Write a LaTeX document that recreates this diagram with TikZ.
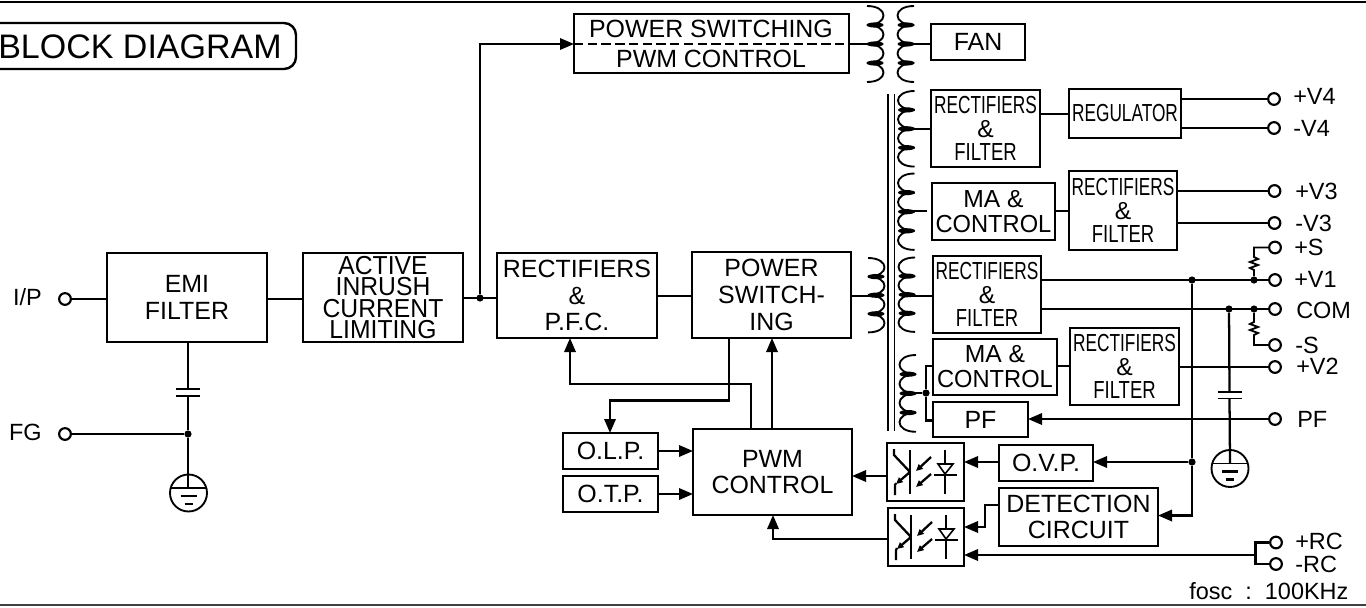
\documentclass[tikz,border=0pt]{standalone}
\usepackage{fontspec}
\usepackage{graphicx}
\setmainfont{Liberation Sans}
\usetikzlibrary{arrows.meta,calc}
\newcommand\cnd[2][.7]{\scalebox{#1}[1]{#2}}
\tikzset{
  wire/.style={line width=1.7pt,line join=miter},
  thin wire/.style={line width=1.1pt},
  arr/.style={wire,-{Triangle[length=10.5pt,width=8.5pt]}},
  blk/.style={draw,line width=1.8pt,inner sep=0pt,outer sep=0pt,align=center},
  term/.style={circle,draw,line width=1.6pt,fill=white,inner sep=0pt,minimum size=8.8pt},
  jn/.style={circle,fill=black,inner sep=0pt,minimum size=5.4pt},
  fb/.style={font=\fontsize{18.7}{20}\selectfont},
  fsm/.style={font=\fontsize{18.5}{17.8}\selectfont},
  lab/.style={anchor=base west,inner sep=0pt,font=\fontsize{17.6}{18}\selectfont},
  labr/.style={anchor=base east,inner sep=0pt,font=\fontsize{17.6}{18}\selectfont},
}
\newcommand\bx[7][]{%
  \pgfmathsetmacro\bw{(#5-#3)*0.75}%
  \pgfmathsetmacro\bh{(#6-#4)*0.75}%
  \node[blk,minimum width=\bw pt,minimum height=\bh pt,#1] (#2) at ({(#3+#5)/2},{(#4+#6)/2}) {#7};}
% coil: open-side x, top y, step, direction (+1 bulge right, -1 bulge left)
\newcommand\coil[4]{%
  \pgfmathsetmacro\cc{#1+#4*22}%
  \pgfmathsetmacro\cm{#1+#4*8}%
  \foreach \i in {0,1,2,3}{%
    \pgfmathsetmacro\ya{#2+\i*#3}%
    \pgfmathsetmacro\yb{\ya+#3}%
    \draw[thin wire,line width=1.4pt] (#1,\ya) .. controls (\cc,\ya) and (\cc,\yb) .. (#1,\yb);
  }%
  \foreach \i in {1,2,3}{%
    \pgfmathsetmacro\ya{#2+\i*#3}%
    \fill (\cm,\ya) ellipse [x radius=8.5,y radius=2.6];
  }}
% opto-coupler symbol relative to the box's top left corner
\newcommand\opto[2]{%
  \begin{scope}[shift={(#1,#2)}]
    \draw[wire] (23,7) -- (23,51);
    \draw[wire] (7,6) -- (7,12) -- (23,29);
    \draw[wire,-{Triangle[length=5pt,width=4.5pt]}] (23,29) -- (9,41);
    \draw[wire] (9,40) -- (8,42) -- (8,52);
    \draw[wire,-{Triangle[length=5pt,width=4.5pt]}] (44,14) -- (29,28);
    \draw[wire,-{Triangle[length=5pt,width=4.5pt]}] (44,31) -- (29,44);
    \draw[wire] (58,7) -- (58,51);
    \draw[line width=1.2pt,fill=white,line join=miter] (51,21) -- (66,21) -- (58,31) -- cycle;
    \draw[wire] (47,32) -- (70,32);
  \end{scope}}
% ground symbol
\newcommand\gnd[3]{%
  \draw[line width=1.4pt] (#1,#2) circle [x radius=18.5,y radius=18.5];
  \draw[line width=1.4pt] ($(#1,#2)+(-18,-5)$) -- ($(#1,#2)+(18,-5)$);
  \draw[line width=1.6pt] ($(#1,#2)+(-8,3)$) -- ($(#1,#2)+(8,3)$);
  \draw[line width=1.6pt] ($(#1,#2)+(-4,11)$) -- ($(#1,#2)+(4,11)$);
}
\newcommand\lb[5][lab]{%
  \pgfmathsetmacro\by{#4+8}%
  \node[#1] (#2) at (#3,\by) {#5};}
\begin{document}
\begin{tikzpicture}[x=0.75pt,y=-0.75pt]
\clip (0,0) rectangle (1366,607);
\useasboundingbox (0,0) rectangle (1366,607);
% frame scraps
\coordinate (ftl) at (0,2); \coordinate (ftr) at (1366,2);
\coordinate (fbl) at (0,605); \coordinate (fbr) at (1366,605);
\draw[line width=1.8pt] (ftl) -- (ftr);
\draw[line width=1.6pt,black!75] (fbl) -- (fbr);
% title
\draw[line width=1.8pt,rounded corners=9pt] (-8,23) -- (296,23) -- (296,69) -- (-8,69);
\node[inner sep=0pt,font=\fontsize{25.5}{26}\selectfont] (title) at (140,47) {BLOCK DIAGRAM};
% blocks
\bx[fb]{emi}{107}{253}{267}{342}{EMI\\FILTER}
\bx[font=\fontsize{19.5}{15.9}\selectfont]{act}{303}{253}{463}{342}{\cnd[.95]{ACTIVE}\\\cnd[.95]{INRUSH}\\\cnd[.95]{CURRENT}\\\cnd[.95]{LIMITING}}
\bx[fb]{rpfc}{497}{253}{657}{338}{RECTIFIERS\\\&\\P.F.C.}
\bx[fb]{psw}{692}{252}{851}{338}{POWER\\SWITCH-\\ING}
\bx{top}{574}{14}{849}{73}{}
\node[inner sep=0pt,font=\fontsize{18.7}{19}\selectfont] (topa) at (711,29) {POWER SWITCHING};
\node[inner sep=0pt,font=\fontsize{18.7}{19}\selectfont] (topb) at (711,59) {PWM CONTROL};
\bx[fb]{fan}{931}{24}{1025}{60}{FAN}
\bx[fsm]{r1}{931}{90}{1040}{167}{\cnd{RECTIFIERS}\\\&\\\cnd[.75]{FILTER}}
\bx[font=\fontsize{18.5}{19}\selectfont]{reg}{1069}{89}{1181}{138}{\cnd[.7]{REGULATOR}}
\bx[font=\fontsize{18.5}{18.8}\selectfont]{ma1}{932}{183}{1055}{240}{MA \&\\\cnd[.96]{CONTROL}}
\bx[fsm]{r2}{1069}{171}{1177}{250}{\cnd{RECTIFIERS}\\\&\\\cnd[.75]{FILTER}}
\bx[fsm]{r3}{933}{256}{1041}{333}{\cnd{RECTIFIERS}\\\&\\\cnd[.75]{FILTER}}
\bx[font=\fontsize{18.5}{18.8}\selectfont]{ma2}{933}{339}{1057}{395}{MA \&\\\cnd[.96]{CONTROL}}
\bx[fsm]{r4}{1070}{328}{1179}{405}{\cnd{RECTIFIERS}\\\&\\\cnd[.75]{FILTER}}
\bx[fb]{pfb}{933}{402}{1028}{437}{PF}
\bx{op1}{887}{443}{964}{501}{}
\bx{op2}{888}{508}{964}{566}{}
\bx[fb]{ovp}{999}{445}{1093}{481}{O.V.P.}
\bx[fb]{det}{999}{488}{1158}{546}{DETECTION\\CIRCUIT}
\bx[fb]{pwm}{693}{429}{852}{515}{PWM\\CONTROL}
\bx[fb]{olp}{563}{433}{658}{469}{O.L.P.}
\bx[fb]{otp}{563}{476}{658}{512}{O.T.P.}
\opto{887}{443}
\opto{888}{508}
% transformer core
\draw[line width=1.3pt] (888,94) -- (888,431);
\draw[line width=1.3pt] (894.5,94) -- (894.5,431);
% coils
\coil{867}{6}{19}{1}
\coil{914}{6}{19}{-1}
\coil{868}{258}{18.6}{1}
\coil{914.5}{91}{18.9}{-1}
\coil{914.5}{173.5}{19.1}{-1}
\coil{915}{257.5}{18.6}{-1}
\coil{916}{355}{19.2}{-1}
% coil tap points
\coordinate (tp1) at (880,44);
\coordinate (ts1) at (902,44);
\coordinate (ts2) at (902,129);
\coordinate (ts3) at (902,211);
\coordinate (ts3e) at (926.5,211);
\coordinate (tp2) at (880,296);
\coordinate (ts4) at (902,296);
\coordinate (ts5) at (903,393);
% terminals
\node[term] (iv4) at (1274,99) {};
\node[term] (nv4) at (1274,128) {};
\node[term] (iv3) at (1274.5,191) {};
\node[term] (nv3) at (1274.5,223) {};
\node[term] (ps) at (1275,247.5) {};
\node[term] (iv1) at (1275,280) {};
\node[term] (com) at (1275,309) {};
\node[term] (ns) at (1275,345) {};
\node[term] (iv2) at (1275,367) {};
\node[term] (pft) at (1275,419) {};
\node[term] (prc) at (1276,542.5) {};
\node[term] (nrc) at (1276,564) {};
\node[term] (ip) at (65,299) {};
\node[term] (fg) at (65,434) {};
% labels
\lb{l1}{1293}{96}{+V4}
\lb{l2}{1293}{128}{-V4}
\lb{l3}{1295}{191}{+V3}
\lb{l4}{1295}{223}{-V3}
\lb{l5}{1294}{247}{+S}
\lb{l6}{1294}{279}{+V1}
\lb{l7}{1296}{310}{COM}
\lb{l8}{1295}{345}{-S}
\lb{l9}{1296}{366.5}{+V2}
\lb{l10}{1297}{419}{PF}
\lb{l11}{1295}{541}{+RC}
\lb{l12}{1295}{564}{-RC}
\lb{l13}{1189}{591}{fosc\ \ :\ \ 100KHz}
\lb[labr]{l14}{42}{297}{I/P}
\lb[labr]{l15}{42}{432}{FG}
% left side
\draw[wire] (ip) -- (emi.west |- ip);
\draw[wire] (emi.east |- 0,299) -- (act.west |- 0,299);
\node[jn] (j1) at (480,298) {};
\draw[wire] (act.east |- j1) -- (rpfc.west |- j1);
\draw[arr] (j1) -- (480,44) -- (top.west |- 0,44);
\node[jn] (j2) at (188,434) {};
\draw[wire] (fg) -- (j2);
\coordinate (c1a) at (188,389); \coordinate (c1b) at (188,396);
\coordinate (g1) at (188.5,493);
\draw[wire] (emi.south -| c1a) -- (c1a);
\draw[line width=1.4pt] ($(c1a)+(-12,0)$) -- ($(c1a)+(12,0)$);
\draw[line width=1.4pt] ($(c1b)+(-12,0)$) -- ($(c1b)+(12,0)$);
\draw[wire] (c1b) -- (j2) -- (188,488);
\gnd{188.5}{493}{}
% middle
\draw[wire] (rpfc.east |- 0,296) -- (psw.west |- 0,296);
\draw[wire] (psw.east |- 0,296) -- (tp2);
\draw[wire,dash pattern=on 7pt off 3.3pt] (top.west |- 0,44) -- (top.east |- 0,44);
\draw[wire] (top.east |- 0,44) -- (tp1);
\draw[wire] (ts1) -- (fan.west |- ts1);
\draw[arr] (pwm.north -| 772,0) -- (psw.south -| 772,0);
\draw[arr] (pwm.north -| 751,0) -- (751,384) -- (570,384) -- (rpfc.south -| 570,0);
\draw[arr] (psw.south -| 729,0) -- (729,400.5) -- (610,400.5) -- (olp.north -| 610,0);
\draw[arr] (olp.east |- 0,451) -- (pwm.west |- 0,451);
\draw[arr] (otp.east |- 0,494) -- (pwm.west |- 0,494);
\draw[arr] (op1.west |- 0,476) -- (pwm.east |- 0,476);
\draw[arr] (op2.west |- 0,539) -- (773,539) -- (pwm.south -| 773,0);
% secondaries
\draw[wire] (ts2) -- (r1.west |- ts2);
\draw[wire] (ts3) -- (ts3e);
\draw[wire] (ts4) -- (r3.west |- ts4);
\node[jn] (j3) at (926,393) {};
\draw[wire] (ts5) -- (j3);
\draw[wire] (ma2.west |- 0,366) -- (926,366) -- (j3) -- (926,420.5) -- (pfb.west |- 0,420.5);
\draw[wire] (r1.east |- 0,114) -- (reg.west |- 0,114);
\draw[wire] (reg.east |- iv4) -- (iv4);
\draw[wire] (reg.east |- nv4) -- (nv4);
\draw[wire] (ma1.east |- 0,211) -- (r2.west |- 0,211);
\draw[wire] (r2.east |- iv3) -- (iv3);
\draw[wire] (r2.east |- nv3) -- (nv3);
\draw[wire] (ma2.east |- 0,366) -- (r4.west |- 0,366);
\draw[wire] (r4.east |- iv2) -- (iv2);
\draw[wire] (r3.east |- iv1) -- (iv1);
\draw[wire] (r3.east |- com) -- (com);
\node[jn] (j4) at (1192,280) {};
\node[jn] (j5) at (1254,280) {};
\node[jn] (j6) at (1229,309) {};
\node[jn] (j7) at (1254,309) {};
\node[jn] (j8) at (1192,462) {};
% sense resistors
\draw[wire,line width=1.4pt] (j5) -- (1254,270) -- (1250,268) -- (1258,265) -- (1250,262) -- (1258,259) -- (1254,257) -- (1254,247.5) -- (ps);
\draw[wire,line width=1.4pt] (j7) -- (1254,322) -- (1250,324) -- (1258,327) -- (1250,330) -- (1258,333) -- (1254,335) -- (1254,345) -- (ns);
% bus to protection
\draw[arr] (j4) -- (j8) -- (1192,515.5) -- (det.east |- 0,515.5);
\draw[arr] (j8) -- (ovp.east |- j8);
\draw[arr] (ovp.west |- j8) -- (op1.east |- j8);
\draw[arr] (det.west |- 0,505) -- (985,505) -- (985,527) -- (op2.east |- 0,527);
\draw[arr] (pft) -- (pfb.east |- pft);
% C and ground
\coordinate (c2a) at (1229.5,392); \coordinate (c2b) at (1229.5,398.5);
\draw[wire] (j6) -- (c2a);
\draw[line width=1.4pt] ($(c2a)+(-12,0)$) -- ($(c2a)+(12,0)$);
\draw[line width=1.4pt] ($(c2b)+(-12,0)$) -- ($(c2b)+(12,0)$);
\draw[wire] (c2b) -- (1230,463);
\gnd{1230}{468.5}{}
% RC
\draw[wire] (prc) -- (1255.5,542.5) -- (1255.5,564) -- (nrc);
\draw[arr] (1255.5,555) -- (op2.east |- 0,555);
\end{tikzpicture}
\end{document}
